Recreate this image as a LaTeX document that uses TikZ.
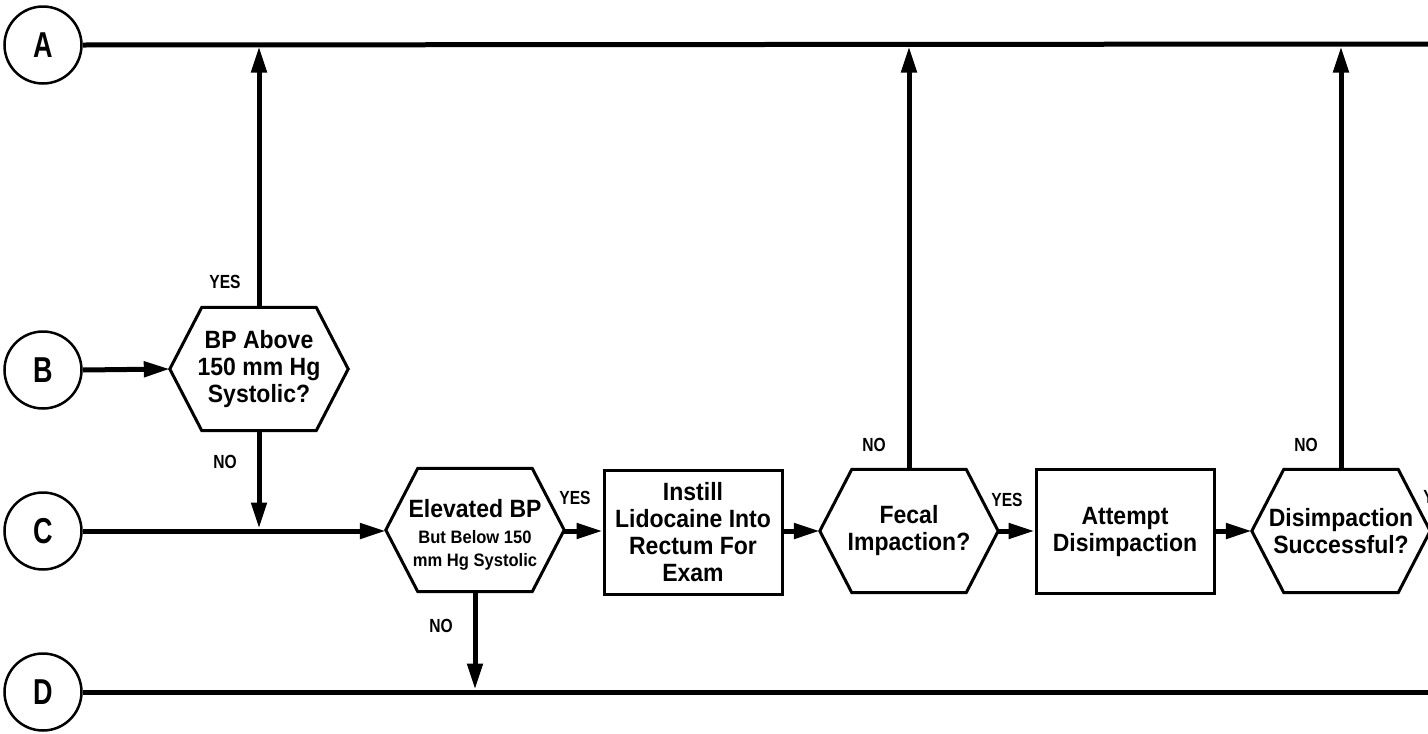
\documentclass[tikz,border=0pt]{standalone}
\usepackage{fontspec}
\newfontfamily\lbl[FakeStretch=0.92]{Liberation Sans Bold}
\newfontfamily\lblc[FakeStretch=0.82]{Liberation Sans Bold}
\newfontfamily\circf[FakeStretch=0.75]{Liberation Sans Bold}
\usetikzlibrary{arrows.meta,calc}
\newcommand\hexshape[1]{\draw[hexline] (#1.west) -- ([xshift=32pt]#1.north west) -- ([xshift=-32pt]#1.north east) -- (#1.east) -- ([xshift=-32pt]#1.south east) -- ([xshift=32pt]#1.south west) -- cycle;}
\begin{document}
\begin{tikzpicture}[x=1pt,y=-1pt,
 conn/.style={line width=5pt},
 arr/.style={line width=5pt,-{Triangle[length=26pt,width=15pt]}},
 circ/.style={circle,draw,line width=2.5pt,minimum size=77pt,inner sep=0,font=\fontsize{36}{36}\selectfont\circf},
 hexnode/.style={minimum width=178pt,minimum height=123pt,inner sep=0,align=center},
 hexline/.style={line width=3pt,line join=miter},
 boxnode/.style={draw,line width=3pt,minimum width=178pt,minimum height=124pt,inner sep=0,align=center,font=\fontsize{25}{27}\selectfont\lbl},
 big/.style={font=\fontsize{25}{27}\selectfont\lbl},
 lab/.style={font=\fontsize{19}{19}\selectfont\lblc,inner sep=0}]
\useasboundingbox (0,0) rectangle (1428,734);
\clip (0,0) rectangle (1428,734);
% circles
\node[circ] (A) at (43,45) {A};
\node[circ] (B) at (43,370) {B};
\node[circ] (C) at (43,531) {C};
\node[circ] (D) at (43,692) {D};
\coordinate (Aend) at (1440,44);
\coordinate (Dend) at (1440,692);
% hexagons
\node[hexnode,big] (h1) at (259,369) {BP Above\\150 mm Hg\\Systolic?};
\hexshape{h1}
\node[hexnode] (h2) at (475,530) {};
\hexshape{h2}
\node[big,align=center,inner sep=0] (t2) at (475,535) {Elevated BP\\[-1pt]{\fontsize{18}{23}\selectfont But Below 150}\\[-4pt]{\fontsize{18}{23}\selectfont mm Hg Systolic}};
\node[hexnode,big] (h3) at (909,531) {Fecal\\Impaction?};
\hexshape{h3}
\node[hexnode,big] (h4) at (1341,531) {Disimpaction\\Successful?};
\hexshape{h4}
% boxes
\node[boxnode] (b1) at (693,532) {Instill\\Lidocaine Into\\Rectum For\\Exam};
\node[boxnode] (b2) at (1125,531.5) {Attempt\\Disimpaction};
% lines
\draw[conn] (A.east) -- (Aend);
\draw[conn] (D.east) -- (Dend);
\draw[arr] (B.east) -- (h1.west);
\draw[arr] (C.east) -- (C.east -| h2.west);
\draw[arr,shorten >=2.5pt] (h1.north) -- (h1.north |- Aend);
\draw[arr,shorten >=2.5pt] (h1.south) -- (h1.south |- C.east);
\draw[arr,shorten >=2.5pt] (h2.south) -- (h2.south |- Dend);
\draw[arr,shorten >=2.5pt] (h3.north) -- (h3.north |- Aend);
\draw[arr,shorten >=2.5pt] (h4.north) -- (h4.north |- Aend);
\draw[arr] (C.east -| h2.east) -- (C.east -| b1.west);
\draw[arr] (b1.east |- h3.west) -- (h3.west);
\draw[arr] (h3.east) -- (h3.east -| b2.west);
\draw[arr] (b2.east |- h4.west) -- (h4.west);
% labels
\node[lab] (l1) at (225,282) {YES};
\node[lab] (l2) at (225,462) {NO};
\node[lab] (l3) at (575,498) {YES};
\node[lab] (l4) at (441,626) {NO};
\node[lab] (l5) at (874,445) {NO};
\node[lab] (l6) at (1007,500) {YES};
\node[lab] (l7) at (1306,445) {NO};
\node[lab] (l8) at (1439,497) {YES};
\end{tikzpicture}
\end{document}
